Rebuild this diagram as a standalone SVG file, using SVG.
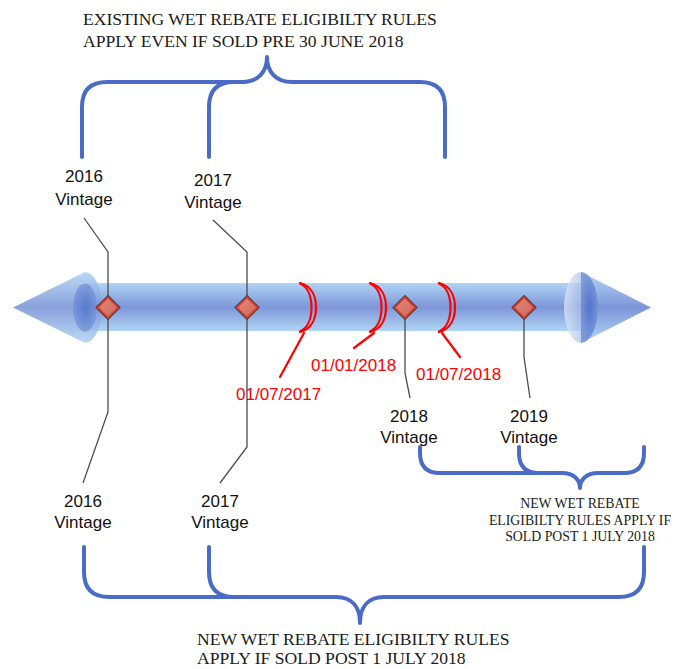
<svg xmlns="http://www.w3.org/2000/svg" width="690" height="669" viewBox="0 0 690 669">
<defs>
<linearGradient id="shaft" x1="0" y1="0" x2="0" y2="1">
<stop offset="0" stop-color="#b0d5f5"/>
<stop offset="0.5" stop-color="#7e96d8"/>
<stop offset="1" stop-color="#b0d5f5"/>
</linearGradient>
<linearGradient id="cone" x1="0" y1="0" x2="0" y2="1">
<stop offset="0" stop-color="#b3d6f5"/>
<stop offset="0.5" stop-color="#7d96d8"/>
<stop offset="1" stop-color="#b3d6f5"/>
</linearGradient>
<radialGradient id="capDark" cx="0.5" cy="0.5" r="0.5">
<stop offset="0" stop-color="#4a6ecb"/>
<stop offset="1" stop-color="#7592d6"/>
</radialGradient>
<linearGradient id="capLight" x1="0" y1="0" x2="1" y2="0">
<stop offset="0" stop-color="#e4ebf8"/>
<stop offset="1" stop-color="#a7bfea"/>
</linearGradient>
<linearGradient id="dia" x1="0" y1="0" x2="1" y2="1">
<stop offset="0" stop-color="#e58a7c"/>
<stop offset="1" stop-color="#c9665a"/>
</linearGradient>
<style>
.brace{fill:none;stroke:#4a6bc6;stroke-width:4;stroke-linecap:round;stroke-linejoin:round}
.lead{fill:none;stroke:#4d4d4d;stroke-width:1.3}
.red{fill:none;stroke:#ff0000;stroke-width:2.2;stroke-linecap:round}
.diamond{fill:url(#dia);stroke:#5a3b38;stroke-width:1.2}
.dinner{fill:none;stroke:#e0301e;stroke-width:1.2}
.lbl{font-family:"Liberation Sans",Arial,sans-serif;font-size:17px;fill:#111;text-anchor:middle}
.date{font-family:"Liberation Sans",Arial,sans-serif;font-size:17px;fill:#ff0000}
.note{font-family:"Liberation Serif","Times New Roman",serif;font-size:17.6px;fill:#1a1a1a}
.small{font-family:"Liberation Serif","Times New Roman",serif;font-size:13.8px;fill:#1a1a1a;text-anchor:middle}
</style>
</defs>

<g id="timeline">
<rect x="85" y="283" width="496" height="48" fill="url(#shaft)"/>
<path d="M13,307.5 L85,272 A17,35.5 0 0 1 85,343 Z" fill="url(#cone)" opacity="0.9"/>
<ellipse cx="85" cy="307.5" rx="12" ry="24" fill="url(#capDark)" opacity="0.75"/>
<path d="M581,272 L651,307.5 L581,343 Z" fill="url(#cone)"/>
<path d="M581,272 A17,35.5 0 0 1 581,343 Z" fill="url(#capDark)" opacity="0.85"/>
<path d="M581,272 A17,35.5 0 0 0 581,343 Z" fill="url(#capLight)" opacity="0.7"/>
</g>

<g id="connectors">
<polyline class="lead" points="84,218 108,252 108,412 83,483"/>
<polyline class="lead" points="213,220 247,252 247,447 220,483"/>
<polyline class="lead" points="405,307 405,373 410,398"/>
<polyline class="lead" points="524,307 524,357 530,398"/>
<path class="red" d="M304,333 L280,377"/>
<path class="red" d="M374,333 L354,348"/>
<path class="red" d="M442,333 L460,357"/>
</g>

<g id="bracket-2017-07">
<path class="red" d="M300,283 C312,286 316,297 316,307.5 C316,318 312,329 300,332"/>
<path class="red" d="M300,283.5 C308,287 311.5,297 311.5,307.5 C311.5,318 308,328 300,331.5"/>
<text class="date" x="236" y="400">01/07/2017</text>
</g>
<g id="bracket-2018-01">
<path class="red" d="M370,283 C382,286 386,297 386,307.5 C386,318 382,329 370,332"/>
<path class="red" d="M370,283.5 C378,287 381.5,297 381.5,307.5 C381.5,318 378,328 370,331.5"/>
<text class="date" x="311" y="371">01/01/2018</text>
</g>
<g id="bracket-2018-07">
<path class="red" d="M439,283 C451,286 455,297 455,307.5 C455,318 451,329 439,332"/>
<path class="red" d="M439,283.5 C447,287 450.5,297 450.5,307.5 C450.5,318 447,328 439,331.5"/>
<text class="date" x="416" y="380">01/07/2018</text>
</g>

<g id="vintage-2016">
<polygon class="diamond" points="108,295.5 120,307.5 108,319.5 96,307.5"/>
<polygon class="dinner" points="108,297.5 118,307.5 108,317.5 98,307.5"/>
<text class="lbl" x="84" y="182">2016</text>
<text class="lbl" x="84" y="205">Vintage</text>
<text class="lbl" x="83" y="507">2016</text>
<text class="lbl" x="83" y="528">Vintage</text>
</g>
<g id="vintage-2017">
<polygon class="diamond" points="247,295.5 259,307.5 247,319.5 235,307.5"/>
<polygon class="dinner" points="247,297.5 257,307.5 247,317.5 237,307.5"/>
<text class="lbl" x="213" y="186">2017</text>
<text class="lbl" x="213" y="208">Vintage</text>
<text class="lbl" x="220" y="507">2017</text>
<text class="lbl" x="220" y="528">Vintage</text>
</g>
<g id="vintage-2018">
<polygon class="diamond" points="405,295.5 417,307.5 405,319.5 393,307.5"/>
<polygon class="dinner" points="405,297.5 415,307.5 405,317.5 395,307.5"/>
<text class="lbl" x="409" y="422">2018</text>
<text class="lbl" x="409" y="443">Vintage</text>
</g>
<g id="vintage-2019">
<polygon class="diamond" points="524,295.5 536,307.5 524,319.5 512,307.5"/>
<polygon class="dinner" points="524,297.5 534,307.5 524,317.5 514,307.5"/>
<text class="lbl" x="529" y="422">2019</text>
<text class="lbl" x="529" y="443">Vintage</text>
</g>

<g id="brace-existing">
<path class="brace" d="M82,157 L82,107 Q82,82 107,82 L242,82 C258,82 267,72 267,57 C267,72 276,82 292,82 L420,82 Q445,82 445,107 L445,157"/>
<path class="brace" d="M209,157 L209,107 Q209,82 234,82 L245,82"/>
<text class="note" x="83" y="25">EXISTING WET REBATE ELIGIBILTY RULES</text>
<text class="note" x="83" y="47">APPLY EVEN IF SOLD PRE 30 JUNE 2018</text>
</g>

<g id="brace-new-small">
<path class="brace" d="M420,447 L420,453 Q420,473 440,473 L562,473 C574,473 580,480 580,488 C580,480 586,473 598,473 L624,473 Q644,473 644,453 L644,447"/>
<path class="brace" d="M519,447 L519,453 Q519,473 539,473 L545,473"/>
<text class="small" x="580" y="508">NEW WET REBATE</text>
<text class="small" x="580" y="524.5">ELIGIBILTY RULES APPLY IF</text>
<text class="small" x="580" y="541">SOLD POST 1 JULY 2018</text>
</g>

<g id="brace-new-large">
<path class="brace" d="M84,547 L84,572 Q84,597 109,597 L336,597 C352,597 360,607 360,623 C360,607 368,597 384,597 L619,597 Q644,597 644,572 L644,547"/>
<path class="brace" d="M209,547 L209,572 Q209,597 234,597 L240,597"/>
<text class="note" x="197" y="645">NEW WET REBATE ELIGIBILTY RULES</text>
<text class="note" x="197" y="664">APPLY IF SOLD POST 1 JULY 2018</text>
</g>
</svg>
